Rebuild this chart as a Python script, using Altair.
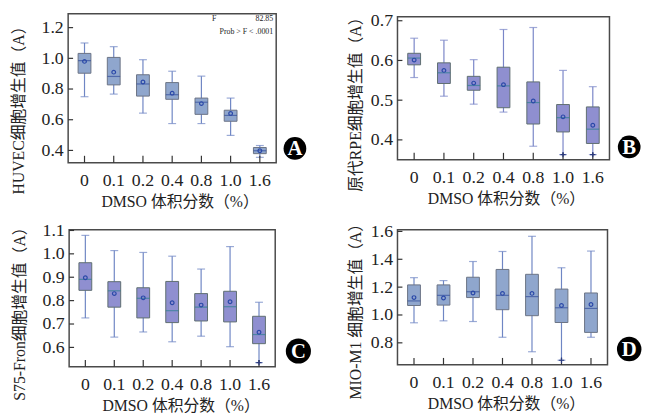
import altair as alt
import pandas as pd

doses = ["0", "0.1", "0.2", "0.4", "0.8", "1.0", "1.6"]

# Panel A: HUVEC
a_low = [0.750, 0.767, 0.643, 0.575, 0.575, 0.498, 0.355]
a_q1 = [0.903, 0.827, 0.754, 0.733, 0.635, 0.590, 0.379]
a_med = [0.985, 0.882, 0.833, 0.763, 0.714, 0.628, 0.398]
a_q3 = [1.032, 1.006, 0.893, 0.842, 0.741, 0.662, 0.419]
a_high = [1.100, 1.076, 0.991, 0.916, 0.884, 0.741, 0.432]
a_mean = [0.980, 0.910, 0.846, 0.773, 0.705, 0.641, 0.398]
a_out_dose = []
a_out_val = []

# Panel B: primary RPE
b_low = [0.557, 0.510, 0.490, 0.470, 0.384, 0.363, 0.363]
b_q1 = [0.589, 0.542, 0.525, 0.481, 0.440, 0.420, 0.391]
b_med = [0.606, 0.569, 0.537, 0.536, 0.494, 0.456, 0.427]
b_q3 = [0.618, 0.594, 0.560, 0.583, 0.546, 0.489, 0.483]
b_high = [0.656, 0.651, 0.602, 0.678, 0.683, 0.575, 0.534]
b_mean = [0.601, 0.575, 0.543, 0.539, 0.498, 0.458, 0.437]
b_out_dose = ["1.0", "1.6"]
b_out_val = [0.363, 0.363]

# Panel C: S75-Fron
c_low = [0.726, 0.644, 0.666, 0.624, 0.648, 0.603, 0.535]
c_q1 = [0.844, 0.772, 0.726, 0.706, 0.713, 0.709, 0.616]
c_med = [0.891, 0.842, 0.810, 0.757, 0.772, 0.774, 0.655]
c_q3 = [0.962, 0.881, 0.855, 0.882, 0.830, 0.840, 0.733]
c_high = [1.079, 1.014, 1.006, 0.990, 0.935, 1.031, 0.793]
c_mean = [0.898, 0.830, 0.812, 0.791, 0.781, 0.795, 0.665]
c_out_dose = ["1.6"]
c_out_val = [0.535]

# Panel D: MIO-M1
d_low = [0.944, 0.958, 0.953, 0.840, 0.736, 0.675, 0.840]
d_q1 = [1.068, 1.071, 1.125, 1.038, 0.995, 0.946, 0.875]
d_med = [1.101, 1.141, 1.167, 1.141, 1.132, 1.052, 1.047]
d_q3 = [1.216, 1.216, 1.271, 1.327, 1.292, 1.186, 1.158]
d_high = [1.268, 1.247, 1.384, 1.456, 1.565, 1.339, 1.459]
d_mean = [1.125, 1.122, 1.158, 1.155, 1.155, 1.068, 1.075]
d_out_dose = ["1.0"]
d_out_val = [0.675]

a_ticks = [0.4, 0.6, 0.8, 1.0, 1.2]
b_ticks = [0.4, 0.5, 0.6, 0.7]
c_ticks = [0.6, 0.7, 0.8, 0.9, 1.0, 1.1]
d_ticks = [0.8, 1.0, 1.2, 1.4, 1.6]

FONT = "Liberation Serif, Noto Sans CJK SC"
XTITLE = "DMSO 体积分数（%）"

PLUS = "M-1,0L1,0M0,-1L0,1"


def panel(lo, q1, med, q3, hi, mean, out_dose, out_val, ytitle, domain, ticks,
          fill, boxstroke, whisk, medc, w, h, letter, ty, tx, xtx, bdx, bdy, bsize,
          stats=False):
    df = pd.DataFrame({"dose": doses, "lo": lo, "q1": q1, "med": med,
                       "q3": q3, "hi": hi, "mean": mean})
    xaxis = alt.Axis(title=XTITLE, labelAngle=0, ticks=False, domain=False,
                     labelPadding=9, titleX=xtx, titleY=39, titleBaseline="middle",
                     titleAlign="center")
    xenc = alt.X("dose:N", sort=doses,
                 scale=alt.Scale(paddingInner=0, paddingOuter=0.06), axis=xaxis)
    yaxis = alt.Axis(title=ytitle, values=ticks, format=".1f", ticks=False,
                     domain=False, grid=False, labelPadding=5, titleX=tx,
                     titleY=ty, titleBaseline="middle", titleAngle=270,
                     titleAlign="center")
    yscale = alt.Scale(domain=domain, nice=False, zero=False)

    def Y(f):
        return alt.Y(f"{f}:Q", scale=yscale, axis=yaxis)

    base = alt.Chart(df)
    whisker = base.mark_rule(color=whisk, strokeWidth=1.2).encode(
        x=xenc, y=Y("lo"), y2="hi:Q")
    cap_lo = base.mark_tick(color=whisk, size=8, thickness=1.2).encode(x=xenc, y=Y("lo"))
    cap_hi = base.mark_tick(color=whisk, size=8, thickness=1.2).encode(x=xenc, y=Y("hi"))
    box = base.mark_bar(size=13, fill=fill, stroke=boxstroke, strokeWidth=1,
                        opacity=1).encode(x=xenc, y=Y("q1"), y2="q3:Q")
    median = base.mark_tick(color=medc, size=13, thickness=1.2).encode(x=xenc, y=Y("med"))
    meanpt = base.mark_point(shape="circle", size=14, filled=False, strokeWidth=1.2,
                             color="#2a48a8", opacity=1).encode(x=xenc, y=Y("mean"))
    ytick_df = pd.DataFrame({"v": ticks})
    yt = alt.Chart(ytick_df).mark_rule(color="#333", strokeWidth=1.2).encode(
        y=Y("v"), x=alt.value(0), x2=alt.value(5))
    xt = base.mark_rule(color="#333", strokeWidth=1.2).encode(
        x=xenc, y=alt.value(h), y2=alt.value(h - 7))
    layers = [whisker, cap_lo, cap_hi, box, median, meanpt, yt, xt]
    if out_dose:
        odf = pd.DataFrame({"dose": out_dose, "v": out_val})
        layers.append(alt.Chart(odf).mark_point(shape=PLUS, size=30, filled=False,
                                                strokeWidth=1.2, color="#2a3a80",
                                                opacity=1).encode(x=xenc, y=Y("v")))
    bdf = pd.DataFrame({"t": [letter]})
    layers.append(alt.Chart(bdf).mark_point(shape="circle", filled=True, color="black",
                                            size=bsize, opacity=1).encode(
        x=alt.value(w + bdx), y=alt.value(h + bdy)))
    layers.append(alt.Chart(bdf).mark_text(font="Liberation Serif", fontWeight="bold",
                                           fontSize=21, color="white", align="center",
                                           baseline="middle", dy=1).encode(
        text="t:N", x=alt.value(w + bdx), y=alt.value(h + bdy)))
    if stats:
        layers.append(alt.Chart(pd.DataFrame({"t": ["F"]})).mark_text(
            font="Liberation Serif", fontSize=8, align="left", baseline="alphabetic",
            color="#222").encode(text="t:N", x=alt.value(146), y=alt.value(7.5)))
        layers.append(alt.Chart(pd.DataFrame({"t": ["82.85"]})).mark_text(
            font="Liberation Serif", fontSize=8, align="right", baseline="alphabetic",
            color="#222").encode(text="t:N", x=alt.value(w - 3), y=alt.value(7.5)))
        layers.append(alt.Chart(pd.DataFrame({"t": ["Prob > F < .0001"]})).mark_text(
            font="Liberation Serif", fontSize=8, align="right", baseline="alphabetic",
            color="#222").encode(text="t:N", x=alt.value(w - 3), y=alt.value(20.5)))
    return alt.layer(*layers).properties(width=w, height=h)


BLUE_FILL, BLUE_STROKE = "#8fa6cd", "#6b7384"
LAV_FILL, LAV_STROKE = "#8f8fd0", "#5e6e70"

A = panel(a_low, a_q1, a_med, a_q3, a_high, a_mean, a_out_dose, a_out_val,
          "HUVEC细胞增生值（A）", [0.32, 1.29], a_ticks, BLUE_FILL, BLUE_STROKE,
          "#6f86c4", "#34509c", 211, 151, "A", 93.5, -50, 113, 19, -14.5, 530, stats=True)
B = panel(b_low, b_q1, b_med, b_q3, b_high, b_mean, b_out_dose, b_out_val,
          "原代RPE细胞增生值（A）", [0.35, 0.71], b_ticks, LAV_FILL, LAV_STROKE,
          "#7a86c8", "#2f7f92", 215, 145, "B", 84.5, -42, 110, 20, -13, 530)
C = panel(c_low, c_q1, c_med, c_q3, c_high, c_mean, c_out_dose, c_out_val,
          "S75-Fron细胞增生值（A）", [0.517, 1.103], c_ticks, LAV_FILL, LAV_STROKE,
          "#6f86c4", "#2f7f92", 209, 139, "C", 81, -50, 113, 23.5, -16, 650)
D = panel(d_low, d_q1, d_med, d_q3, d_high, d_mean, d_out_dose, d_out_val,
          "MIO-M1 细胞增生值（A）", [0.642, 1.612], d_ticks, BLUE_FILL, BLUE_STROKE,
          "#6f86c4", "#34509c", 213, 137, "D", 78.5, -42, 110, 22, -16, 620)

chart = alt.concat(A, B, C, D, columns=2, bounds="flush", center=True,
                   spacing=alt.RowColnumber(row=68, column=123)).properties(
    padding={"left": 2, "top": -3, "right": 0, "bottom": 0}
).configure_view(stroke="#4a4a4a", strokeWidth=1.5).configure_axis(
    labelFont=FONT, titleFont=FONT, labelFontSize=18, titleFontSize=16,
    labelColor="#222", titleColor="#222", titleFontWeight="normal")

chart.save("out.html", embed_options={"renderer": "svg", "actions": False})
